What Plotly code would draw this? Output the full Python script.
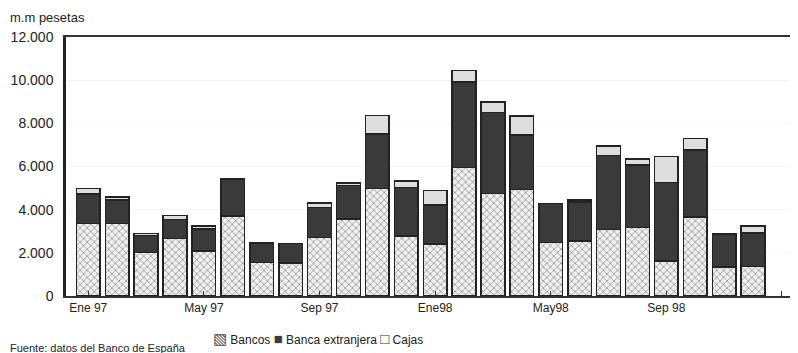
import plotly.graph_objects as go

months = ["Ene 97", "Feb 97", "Mar 97", "Abr 97", "May 97", "Jun 97", "Jul 97", "Ago 97",
          "Sep 97", "Oct 97", "Nov 97", "Dic 97", "Ene 98", "Feb 98", "Mar 98", "Abr 98",
          "May 98", "Jun 98", "Jul 98", "Ago 98", "Sep 98", "Oct 98", "Nov 98", "Dic 98"]
bancos = [3370, 3370, 2010, 2670, 2090, 3710, 1560, 1540, 2720, 3570, 4970, 2780,
          2400, 5950, 4740, 4940, 2490, 2560, 3090, 3180, 1620, 3650, 1340, 1360]
banca_extranjera = [1360, 1080, 800, 870, 1010, 1680, 900, 900, 1370, 1540, 2540, 2240,
                    1820, 3970, 3770, 2510, 1790, 1800, 3410, 2880, 3650, 3120, 1530, 1550]
cajas = [260, 140, 80, 180, 140, 30, 0, 0, 210, 130, 850, 310,
         660, 520, 470, 880, 0, 90, 460, 290, 1200, 520, 0, 330]
tick_pos = [0, 4, 8, 12, 16, 20, 24]
tick_text = ["Ene 97", "May 97", "Sep 97", "Ene98", "May98", "Sep 98", ""]
y_ticks = [0, 2000, 4000, 6000, 8000, 10000, 12000]
y_text = ["0", "2.000", "4.000", "6.000", "8.000", "10.000", "12.000"]

x = list(range(len(months)))
font = "Liberation Sans, Arial, sans-serif"
line = dict(color="#222222", width=1.5)

fig = go.Figure()
fig.add_trace(go.Bar(x=x, y=bancos, name="Bancos", width=0.82,
                     marker=dict(color="white", line=line,
                                 pattern=dict(shape="x", fgcolor="#444444", bgcolor="#efefef",
                                              size=5, solidity=0.3)),
                     hovertext=months))
fig.add_trace(go.Bar(x=x, y=banca_extranjera, name="Banca extranjera", width=0.82,
                     marker=dict(color="#3a3a3a", line=line), hovertext=months))
fig.add_trace(go.Bar(x=x, y=cajas, name="Cajas", width=0.82,
                     marker=dict(color="#dedede", line=line), hovertext=months))

legend_text = ('<span style="color:#444444;font-size:15px">▧</span> Bancos '
               '<span style="color:#3a3a3a;font-size:15px">■</span> Banca extranjera '
               '<span style="color:#333333;font-size:15px">□</span> Cajas')

# page body has an 8px default margin, so the figure is 8px smaller than the window
fig.update_layout(
    width=790, height=345,
    barmode="stack",
    paper_bgcolor="white", plot_bgcolor="white",
    margin=dict(l=58, r=3, t=29, b=57, autoexpand=False),
    font=dict(family=font, color="#222222", size=13),
    showlegend=False,
    xaxis=dict(range=[-0.77, 24.45], tickmode="array", tickvals=tick_pos, ticktext=tick_text,
               showline=True, linecolor="#333333", linewidth=2, mirror=True,
               ticks="inside", ticklen=5, tickcolor="#333333", showgrid=False,
               tickfont=dict(size=12), zeroline=False, automargin=False),
    yaxis=dict(range=[0, 12000], tickmode="array", tickvals=y_ticks, ticktext=y_text,
               showline=True, linecolor="#222222", linewidth=2.5, ticks="",
               showgrid=True, gridcolor="#f3f3f3", zeroline=False, automargin=False,
               tickfont=dict(size=14), ticklabelstandoff=7),
    annotations=[
        dict(text="m.m pesetas", xref="paper", yref="paper", x=-0.079, y=1.04,
             xanchor="left", yanchor="bottom", showarrow=False, font=dict(size=13)),
        dict(text=legend_text, xref="paper", yref="paper", x=0.345, y=-0.125,
             xanchor="center", yanchor="top", showarrow=False, font=dict(size=12)),
        dict(text="Fuente: datos del Banco de España", xref="paper", yref="paper",
             x=-0.079, y=-0.17, xanchor="left", yanchor="top", showarrow=False,
             font=dict(size=11)),
    ],
)

fig.write_html("out.html")
